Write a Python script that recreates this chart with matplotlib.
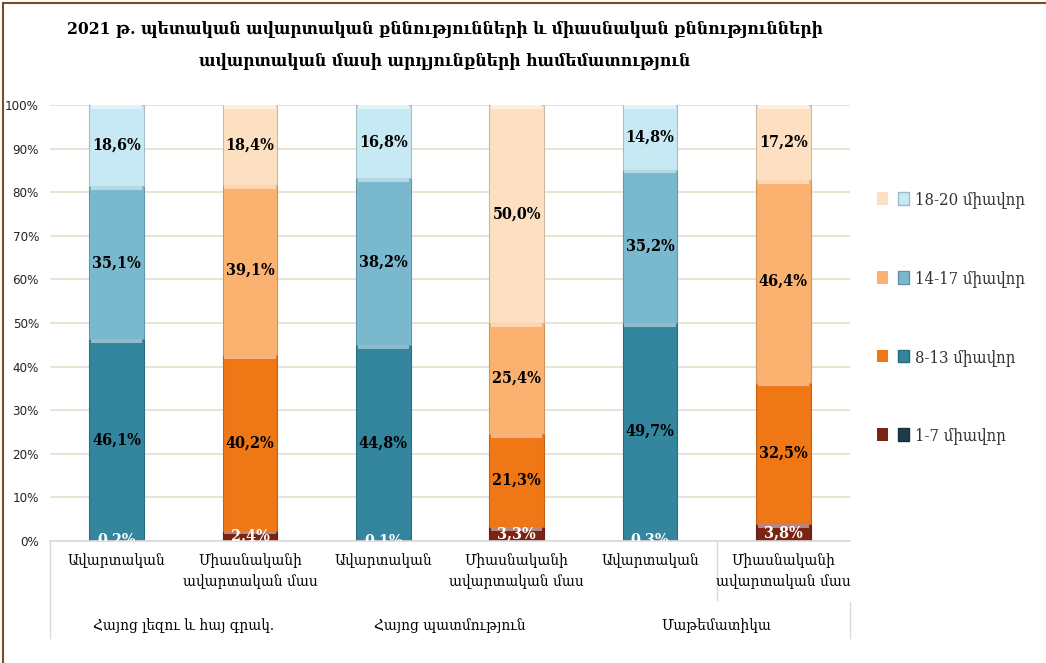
import matplotlib
matplotlib.use("Agg")
import matplotlib.pyplot as plt
import numpy as np
from matplotlib.patches import Patch
from matplotlib.legend_handler import HandlerTuple
from matplotlib.lines import Line2D
from matplotlib.colors import to_rgb

# ---------------- data ----------------
title_lines = ["2021 թ. պետական ավարտական քննությունների և միասնական քննությունների",
               "ավարտական մասի արդյունքների համեմատություն"]
categories = ["Ավարտական", "Միասնականի\nավարտական մաս",
              "Ավարտական", "Միասնականի\nավարտական մաս",
              "Ավարտական", "Միասնականի\nավարտական մաս"]
groups = ["Հայոց լեզու և հայ գրակ.", "Հայոց պատմություն", "Մաթեմատիկա"]
series_names = ["1-7 միավոր", "8-13 միավոր", "14-17 միավոր", "18-20 միավոր"]
s_1_7 = [0.2, 2.4, 0.1, 3.3, 0.3, 3.8]
s_8_13 = [46.1, 40.2, 44.8, 21.3, 49.7, 32.5]
s_14_17 = [35.1, 39.1, 38.2, 25.4, 35.2, 46.4]
s_18_20 = [18.6, 18.4, 16.8, 50.0, 14.8, 17.2]
yticks = [0, 10, 20, 30, 40, 50, 60, 70, 80, 90, 100]

# ---------------- style ----------------
blue_cols = ["#1c3d48", "#33869d", "#7ab8ce", "#c7e9f4"]
orange_cols = ["#7c2413", "#f07716", "#fbb270", "#fde0c1"]
label_colors = ["white", "black", "black", "black"]
serif = ["DejaVu Serif"]
cond = "condensed"

W, H = 1046, 663
fig = plt.figure(figsize=(W / 100, H / 100), dpi=100)
fig.patch.set_facecolor("white")

def fx(px):
    return px / W

def fy(py):
    return 1 - py / H

ax = fig.add_axes([fx(50), fy(541), fx(850) - fx(50), fy(105) - fy(541)])
ax.set_xlim(-0.5, 5.5)
ax.set_ylim(0, 100)
for s in ax.spines.values():
    s.set_visible(False)
ax.set_yticks(yticks)
ax.set_yticklabels([f"{t}%" for t in yticks], fontsize=9.5, family="DejaVu Sans",
                   fontstretch=cond, color="#222222")
ax.tick_params(axis="y", length=0, pad=8)
ax.set_xticks([])
ax.yaxis.grid(True, color="#e3dfcc", linewidth=1.2)
ax.set_axisbelow(True)

data = np.array([s_1_7, s_8_13, s_14_17, s_18_20], dtype=float)
data = data / data.sum(axis=0) * 100.0
x = np.arange(len(categories))
bw = 0.41

def lighten(c, f):
    r, g, b = to_rgb(c)
    return (r + (1 - r) * f, g + (1 - g) * f, b + (1 - b) * f)

def darken(c, f):
    r, g, b = to_rgb(c)
    return (r * (1 - f), g * (1 - f), b * (1 - f))

bottom = np.zeros(len(categories))
for si in range(4):
    vals = data[si]
    cols = [blue_cols[si] if i % 2 == 0 else orange_cols[si] for i in range(len(categories))]
    ax.bar(x, vals, bw, bottom=bottom, color=cols,
           edgecolor=[darken(c, 0.18) for c in cols], linewidth=0.8, zorder=2)
    # bevel highlight at top of each segment
    hl = np.minimum(vals, 0.9)
    ax.bar(x, hl, bw * 0.94, bottom=bottom + vals - hl,
           color=[lighten(c, 0.45) for c in cols], linewidth=0, zorder=3)
    raw = [s_1_7, s_8_13, s_14_17, s_18_20][si]
    for i in range(len(categories)):
        txt = f"{raw[i]:.1f}%".replace(".", ",")
        ax.text(x[i], bottom[i] + vals[i] / 2, txt, ha="center", va="center",
                fontsize=11.5, family=serif, fontstretch=cond, fontweight="bold",
                color=label_colors[si], zorder=5, clip_on=True)
    bottom += vals

# x axis line and multi-level labels
tr = ax.get_xaxis_transform()
ax.plot([-0.5, 5.5], [0, 0], color="#d9d9d9", lw=1.2, transform=tr, clip_on=False, zorder=4)

def ay(py):
    # pixel y -> axes fraction
    return (541 - py) / (541 - 105)

for i, c in enumerate(categories):
    ax.text(x[i], ay(553), c, ha="center", va="top", transform=tr, fontsize=11,
            family=serif, fontstretch=cond, linespacing=1.55)
for gi, g in enumerate(groups):
    ax.text(2 * gi + 0.5, ay(626), g, ha="center", va="center", transform=tr, fontsize=11,
            family=serif, fontstretch=cond)

sep_col = "#dadada"
ax.plot([-0.5, -0.5], [0, ay(638)], color=sep_col, lw=1, transform=tr, clip_on=False)
ax.plot([4.5, 4.5], [0, ay(600)], color=sep_col, lw=1, transform=tr, clip_on=False)
ax.plot([5.5, 5.5], [ay(602), ay(638)], color=sep_col, lw=1, transform=tr, clip_on=False)

# title
fig.text(fx(445), fy(30), title_lines[0], ha="center", va="center", fontsize=12.5,
         fontweight="bold", family=serif, fontstretch=cond)
fig.text(fx(445), fy(62), title_lines[1], ha="center", va="center", fontsize=12.5,
         fontweight="bold", family=serif, fontstretch=cond)

# legend (reverse order), each entry shows orange + blue swatch
handles = []
for si in range(4):
    handles.append((Patch(facecolor=orange_cols[si], edgecolor="none"),
                    Patch(facecolor=blue_cols[si], edgecolor=darken(blue_cols[si], 0.2))))
leg = fig.legend(handles[::-1], series_names[::-1],
                 handler_map={tuple: HandlerTuple(ndivide=None, pad=0.6)},
                 loc="center left", bbox_to_anchor=(fx(862), fy(318)),
                 frameon=False, prop={"family": serif, "size": 12, "stretch": cond},
                 labelspacing=3.7, handlelength=1.9, handleheight=0.8, handletextpad=0.4)
for t in leg.get_texts():
    t.set_color("#333333")

# brown border on top and left
fig.add_artist(Line2D([fx(3), 1], [fy(3), fy(3)], color="#7b4a28", lw=1.5))
fig.add_artist(Line2D([fx(3), fx(3)], [0, fy(3)], color="#7b4a28", lw=1.5))

fig.savefig("out.png", dpi=100, facecolor="white")
